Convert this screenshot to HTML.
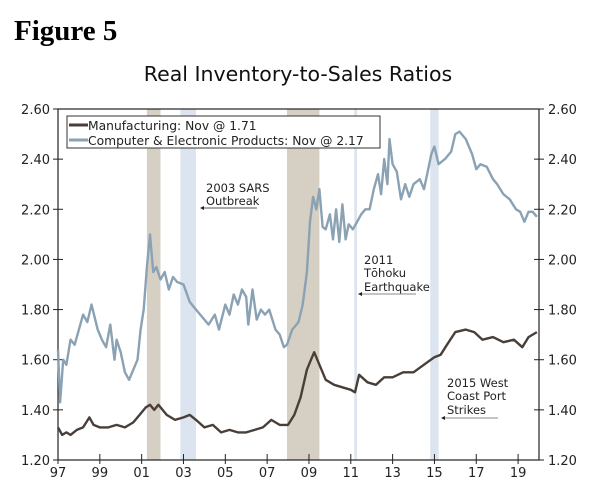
<!DOCTYPE html>
<html><head><meta charset="utf-8"><style>
body{margin:0;background:#fff;width:600px;height:494px;overflow:hidden}
svg{font-family:"DejaVu Sans","Liberation Sans",sans-serif}
</style></head><body>
<svg id="chart" width="600" height="494">
<text x="14" y="40" font-family="Liberation Serif,serif" font-weight="bold" font-size="29">Figure 5</text>
<text x="298" y="81" text-anchor="middle" font-size="20.5" fill="#111">Real Inventory-to-Sales Ratios</text>
<g id="bands"></g><g id="axes"></g><g id="lines"></g>
<g>
<rect x="67" y="116" width="313" height="32" fill="#fff" stroke="#333" stroke-width="1"/>
<line x1="69" y1="125" x2="88" y2="125" stroke="#4a3f38" stroke-width="3"/>
<text x="88" y="130" font-size="12.3" fill="#222">Manufacturing: Nov @ 1.71</text>
<line x1="69" y1="140" x2="88" y2="140" stroke="#8aa2b4" stroke-width="3"/>
<text x="88" y="145" font-size="12.3" fill="#222">Computer &amp; Electronic Products: Nov @ 2.17</text>
</g>
<g font-size="11.5" fill="#222">
<text x="206" y="192"><tspan x="206">2003 SARS</tspan><tspan x="206" dy="13">Outbreak</tspan></text>
<line x1="201" y1="208" x2="257" y2="208" stroke="#555"/><path d="M200,208 l4,-2 v4z" fill="#222"/>
<text x="364" y="264"><tspan x="364">2011</tspan><tspan x="364" dy="13">Tōhoku</tspan><tspan x="364" dy="14">Earthquake</tspan></text>
<line x1="359" y1="294" x2="416" y2="294" stroke="#888"/><path d="M358,294 l4,-2 v4z" fill="#222"/>
<text x="447" y="387"><tspan x="447">2015 West</tspan><tspan x="447" dy="13">Coast Port</tspan><tspan x="447" dy="14">Strikes</tspan></text>
<line x1="442" y1="418" x2="498" y2="418" stroke="#888"/><path d="M441,418 l4,-2 v4z" fill="#222"/>
</g>
</svg>
<script>
const recessions=[[2001.25,2001.9],[2007.95,2009.5]];
const events=[[2002.85,2003.6],[2011.17,2011.3],[2014.8,2015.2]];
const yTicks=[1.2,1.4,1.6,1.8,2.0,2.2,2.4,2.6];
const xTicks=[1997,1999,2001,2003,2005,2007,2009,2011,2013,2015,2017,2019];
const mfgT=[1997,1997.2,1997.4,1997.6,1997.9,1998.2,1998.5,1998.7,1999,1999.4,1999.8,2000.2,2000.6,2000.9,2001.2,2001.4,2001.6,2001.8,2002.2,2002.6,2003,2003.3,2003.6,2004,2004.4,2004.8,2005.2,2005.6,2006,2006.4,2006.8,2007.2,2007.6,2008,2008.3,2008.6,2008.9,2009.1,2009.25,2009.5,2009.8,2010.2,2010.6,2011,2011.2,2011.4,2011.8,2012.2,2012.6,2013,2013.5,2014,2014.5,2015,2015.3,2015.6,2016,2016.5,2016.9,2017.3,2017.8,2018.3,2018.8,2019.2,2019.5,2019.9];
const mfgV=[1.33,1.30,1.31,1.30,1.32,1.33,1.37,1.34,1.33,1.33,1.34,1.33,1.35,1.38,1.41,1.42,1.40,1.42,1.38,1.36,1.37,1.38,1.36,1.33,1.34,1.31,1.32,1.31,1.31,1.32,1.33,1.36,1.34,1.34,1.38,1.45,1.56,1.60,1.63,1.58,1.52,1.50,1.49,1.48,1.47,1.54,1.51,1.50,1.53,1.53,1.55,1.55,1.58,1.61,1.62,1.66,1.71,1.72,1.71,1.68,1.69,1.67,1.68,1.65,1.69,1.71];
const cmpT=[1997,1997.1,1997.25,1997.4,1997.6,1997.8,1998,1998.2,1998.4,1998.6,1998.9,1999.1,1999.3,1999.5,1999.7,1999.8,2000,2000.2,2000.4,2000.6,2000.8,2000.95,2001.1,2001.25,2001.4,2001.55,2001.7,2001.9,2002.1,2002.3,2002.5,2002.7,2003,2003.3,2003.6,2003.9,2004.2,2004.5,2004.7,2005,2005.2,2005.4,2005.6,2005.8,2006,2006.1,2006.3,2006.5,2006.7,2006.9,2007.1,2007.4,2007.6,2007.8,2007.95,2008.2,2008.5,2008.7,2008.9,2009.05,2009.2,2009.35,2009.5,2009.65,2009.8,2010,2010.15,2010.3,2010.45,2010.6,2010.75,2010.9,2011.1,2011.3,2011.5,2011.7,2011.9,2012.1,2012.3,2012.45,2012.6,2012.75,2012.85,2013,2013.2,2013.4,2013.6,2013.8,2014,2014.3,2014.5,2014.7,2014.85,2015,2015.2,2015.5,2015.8,2016,2016.2,2016.5,2016.8,2017,2017.2,2017.5,2017.8,2018,2018.3,2018.6,2018.9,2019.1,2019.3,2019.5,2019.7,2019.9];
const cmpV=[1.64,1.43,1.60,1.58,1.68,1.66,1.72,1.78,1.75,1.82,1.72,1.68,1.65,1.74,1.60,1.68,1.63,1.55,1.52,1.56,1.60,1.72,1.80,1.97,2.10,1.95,1.97,1.92,1.95,1.88,1.93,1.91,1.90,1.83,1.80,1.77,1.74,1.78,1.72,1.82,1.78,1.86,1.82,1.88,1.85,1.74,1.88,1.76,1.80,1.78,1.80,1.72,1.70,1.65,1.66,1.72,1.75,1.82,1.95,2.15,2.25,2.20,2.28,2.13,2.12,2.18,2.08,2.20,2.07,2.22,2.08,2.14,2.12,2.15,2.18,2.20,2.20,2.28,2.34,2.26,2.40,2.30,2.48,2.38,2.35,2.24,2.30,2.25,2.30,2.32,2.28,2.36,2.42,2.45,2.38,2.40,2.43,2.50,2.51,2.48,2.42,2.36,2.38,2.37,2.32,2.30,2.26,2.24,2.20,2.19,2.15,2.19,2.19,2.17];
const L=58,R=539,T=109,B=460,X0=1997,X1=2020,Y0=1.2,Y1=2.6;
const xs=v=>L+(v-X0)/(X1-X0)*(R-L), ys=v=>B-(v-Y0)/(Y1-Y0)*(B-T);
const NS="http://www.w3.org/2000/svg";
function mk(tag,attrs,parent){const e=document.createElementNS(NS,tag);for(const k in attrs)e.setAttribute(k,attrs[k]);document.getElementById(parent).appendChild(e);return e;}
recessions.forEach(r=>{const e=mk('rect',{x:xs(r[0]),y:T,width:xs(r[1])-xs(r[0]),height:B-T,fill:'#d6d0c4'},'bands');

});
events.forEach(r=>{const e=mk('rect',{x:xs(r[0]),y:T,width:xs(r[1])-xs(r[0]),height:B-T,fill:'#dbe4ef'},'bands');

});
mk('rect',{x:L,y:T,width:R-L,height:B-T,fill:'none',stroke:'#222','stroke-width':1.2},'axes');
yTicks.forEach(v=>{const y=ys(v);
mk('line',{x1:L-5,x2:L+5,y1:y,y2:y,stroke:'#222'},'axes');mk('line',{x1:R-5,x2:R+5,y1:y,y2:y,stroke:'#222'},'axes');
const a=mk('text',{x:L-8,y:y+5,'text-anchor':'end','font-size':13,fill:'#222'},'axes');a.textContent=v.toFixed(2);


const b=mk('text',{x:R+9,y:y+5,'font-size':13,fill:'#222'},'axes');b.textContent=v.toFixed(2);

});
xTicks.forEach(v=>{const x=xs(v);mk('line',{x1:x,x2:x,y1:B-6,y2:B+4,stroke:'#222'},'axes');
const t=mk('text',{x:x,y:B+17,'text-anchor':'middle','font-size':13,fill:'#222'},'axes');t.textContent=String(v).slice(2);

});
function line(T_,V,c,name){const d=T_.map((t,i)=>(i?'L':'M')+xs(t).toFixed(1)+','+ys(V[i]).toFixed(1)).join('');
const p=mk('path',{d:d,fill:'none',stroke:c,'stroke-width':2.4,'stroke-linejoin':'round'},'lines');

}
line(cmpT,cmpV,'#8aa2b4','computer-line');
line(mfgT,mfgV,'#4a3f38','manufacturing-line');
</script>
</body></html>
